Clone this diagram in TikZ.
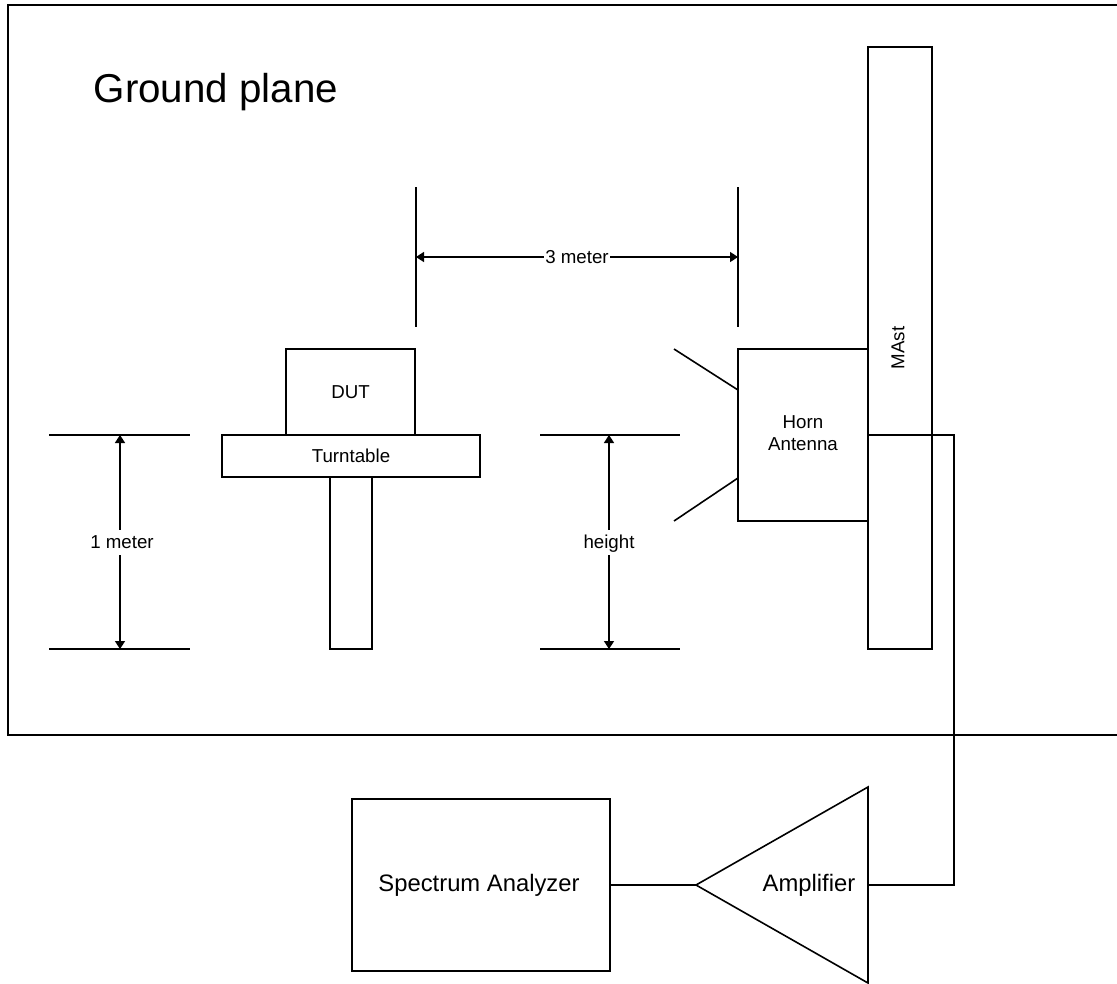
\documentclass[tikz,border=0pt]{standalone}
\usepackage{fontspec}
\setmainfont{Liberation Sans}
\usetikzlibrary{arrows.meta}
\tikzset{
  x=1bp,y=-1bp,
  box/.style={draw,inner sep=0pt,outer sep=0pt,anchor=north west,align=center},
  small/.style={font=\fontsize{18.7bp}{22bp}\selectfont},
  mid/.style={font=\fontsize{23.8bp}{28bp}\selectfont},
  lbl/.style={inner sep=1.5pt,fill=white,small,text height=17bp,text depth=5bp},
  dimarrow/.style={{Triangle[length=8bp,width=10bp]}-{Triangle[length=8bp,width=10bp]}}
}
\begin{document}
\begin{tikzpicture}[line width=1.6bp,line join=miter]
\useasboundingbox (0,0) rectangle (1117,984);
% ground plane
\coordinate (gptr) at (1117,5);
\coordinate (gptl) at (8,5);
\coordinate (gpbl) at (8,735);
\coordinate (gpbr) at (1117,735);
\draw (gptr) -- (gptl) -- (gpbl) -- (gpbr);
\node[anchor=base west,inner sep=0pt,font=\fontsize{40.3bp}{44bp}\selectfont] (gp) at (93,102.5) {Ground plane};
% boxes
\node[box,small,minimum width=129bp,minimum height=86bp] (dut) at (286,349) {DUT};
\node[box,minimum width=42bp,minimum height=172bp] (ped) at (330,477) {};
\node[box,small,fill=white,minimum width=258bp,minimum height=42bp] (turn) at (222,435) {Turntable};
\node[box,minimum width=64bp,minimum height=602bp] (mast) at (868,47) {};
\node[rotate=90,small,inner sep=0pt] (mastlabel) at (898,348) {MAst};
\node[box,minimum width=130bp,minimum height=172bp] (horn) at (738,349) {};
\node[small,inner sep=0pt,align=center] (hornlabel) at (803,433) {Horn\\Antenna};
\node[box,mid,minimum width=258bp,minimum height=172bp] (sa) at (352,799) {Spectrum Analyzer\hspace{4bp}};
% amplifier
\coordinate (amptip) at (696,885);
\coordinate (amptop) at (868,787);
\coordinate (ampbot) at (868,983);
\coordinate (ampout) at (868,885);
\draw (amptip) -- (amptop) -- (ampbot) -- cycle;
\node[mid,inner sep=0pt] (amp) at (809,885) {Amplifier};
% signal path
\coordinate (mastout) at (868,435);
\coordinate (wa) at (954,435);
\coordinate (wb) at (954,885);
\draw (mastout) -- (wa) -- (wb) -- (ampout);
\draw (sa.east |- amptip) -- (amptip);
% horn flare
\coordinate (fa) at (674,349);
\coordinate (fb) at (738,390);
\coordinate (fc) at (674,521);
\coordinate (fd) at (738,478);
\draw (fa) -- (fb);
\draw (fc) -- (fd);
% 3 meter
\coordinate (ta) at (416,187);\coordinate (tb) at (416,327);
\coordinate (tc) at (738,187);\coordinate (td) at (738,327);
\draw (ta) -- (tb);
\draw (tc) -- (td);
\coordinate (tl) at (416,257);\coordinate (tr) at (738,257);
\draw[dimarrow] (tl) -- node[lbl] (threem) {3 meter} (tr);
% 1 meter
\coordinate (oa) at (49,435);\coordinate (ob) at (190,435);
\coordinate (oc) at (49,649);\coordinate (od) at (190,649);
\draw (oa) -- (ob);
\draw (oc) -- (od);
\coordinate (ot) at (120,435);\coordinate (ob2) at (120,649);
\draw[dimarrow] (ot) -- node[lbl,xshift=2bp] (onem) {1 meter} (ob2);
% height
\coordinate (ha) at (540,435);\coordinate (hb) at (680,435);
\coordinate (hc) at (540,649);\coordinate (hd) at (680,649);
\draw (ha) -- (hb);
\draw (hc) -- (hd);
\coordinate (ht) at (609,435);\coordinate (hb2) at (609,649);
\draw[dimarrow] (ht) -- node[lbl] (heightl) {height} (hb2);
\end{tikzpicture}
\end{document}
